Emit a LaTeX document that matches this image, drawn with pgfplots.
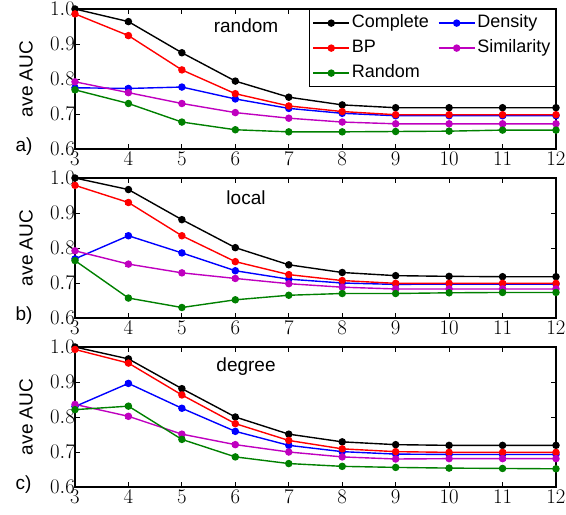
\documentclass[border=0pt]{standalone}
\usepackage{fontspec}
\setmainfont{Liberation Sans}
\usepackage{pgfplots}
\pgfplotsset{compat=1.18}
\definecolor{mpgreen}{rgb}{0,0.5,0}
\definecolor{mpmag}{rgb}{0.75,0,0.75}
\pgfplotsset{
  panel/.style={
    scale only axis, width=481pt, height=140pt,
    xmin=3, xmax=12, ymin=0.6, ymax=1.0,
    xtick={3,4,5,6,7,8,9,10,11,12},
    ytick={0.6,0.7,0.8,0.9,1.0},
    yticklabel style={/pgf/number format/fixed, /pgf/number format/fixed zerofill, /pgf/number format/precision=1},
    tick align=inside, xtick pos=both, ytick pos=both,
    xticklabel pos=bottom, yticklabel pos=left,
    major tick length=5pt,
    tick style={black, line width=0.9pt},
    axis line style={line width=1.2pt},
    ticklabel style={font=\fontsize{20}{22}\selectfont},
    every y tick label/.append style={xshift=3.3pt},
    clip=false,
    every axis plot/.append style={line width=1.4pt, mark=*, mark size=3pt,
      error bars/y dir=both, error bars/y explicit,
      error bars/error bar style={line width=1pt},
      error bars/error mark options={rotate=90, mark size=3pt, line width=1pt}},
  },
  cB/.style={black, mark options={fill=black}},
  cR/.style={red, mark options={fill=red}},
  cD/.style={blue, mark options={fill=blue}},
  cS/.style={mpmag, mark options={fill=mpmag}},
  cG/.style={mpgreen, mark options={fill=mpgreen}},
}
\newcommand{\lbl}[1]{\node[rotate=90, font=\fontsize{19}{22}\selectfont] at ([xshift=-49pt]rel axis cs:0,0.5) {ave AUC};
  \node[anchor=base west, font=\fontsize{19}{22}\selectfont] at ([xshift=-63pt,yshift=-2pt]rel axis cs:0,0) {#1};}
\begin{document}
\begin{tikzpicture}
\useasboundingbox (0,0) rectangle (566pt,-515pt);
% ---------------- panel a
\begin{axis}[panel, at={(75pt,-9pt)}, anchor=north west,
  legend columns=2,
  legend style={at={(rel axis cs:1,1)}, anchor=north east, draw=black, line width=1.2pt,
    font=\fontsize{18}{20}\selectfont, inner sep=3pt, row sep=4pt,
    nodes={inner sep=2pt, text height=13pt, text depth=4pt},
    /tikz/every even column/.append style={column sep=7pt}},
  legend cell align=left,
  legend image code/.code={\draw[mark repeat=2, mark phase=2] plot coordinates {(0pt,0pt) (18pt,0pt) (36pt,0pt)};},
]
\addplot[cB] coordinates {(3,1.0)+-(0,0.003) (4,0.964)+-(0,0.004) (5,0.875)+-(0,0.004) (6,0.794)+-(0,0.004) (7,0.748)+-(0,0.003) (8,0.726)+-(0,0.003) (9,0.718)+-(0,0.003) (10,0.718)+-(0,0.003) (11,0.718)+-(0,0.003) (12,0.718)+-(0,0.003)};
\addlegendentry{Complete}
\addplot[cD] coordinates {(3,0.775)+-(0,0.004) (4,0.773)+-(0,0.005) (5,0.777)+-(0,0.005) (6,0.743)+-(0,0.005) (7,0.716)+-(0,0.004) (8,0.702)+-(0,0.004) (9,0.695)+-(0,0.004) (10,0.695)+-(0,0.004) (11,0.695)+-(0,0.004) (12,0.695)+-(0,0.004)};
\addlegendentry{Density}
\addplot[cR] coordinates {(3,0.986)+-(0,0.004) (4,0.924)+-(0,0.005) (5,0.826)+-(0,0.005) (6,0.758)+-(0,0.004) (7,0.723)+-(0,0.004) (8,0.707)+-(0,0.004) (9,0.698)+-(0,0.004) (10,0.698)+-(0,0.004) (11,0.698)+-(0,0.004) (12,0.698)+-(0,0.004)};
\addlegendentry{BP}
\addplot[cS] coordinates {(3,0.792)+-(0,0.005) (4,0.761)+-(0,0.006) (5,0.730)+-(0,0.005) (6,0.704)+-(0,0.004) (7,0.688)+-(0,0.004) (8,0.677)+-(0,0.004) (9,0.672)+-(0,0.004) (10,0.672)+-(0,0.004) (11,0.672)+-(0,0.004) (12,0.672)+-(0,0.004)};
\addlegendentry{Similarity}
\addplot[cG] coordinates {(3,0.769)+-(0,0.004) (4,0.730)+-(0,0.004) (5,0.677)+-(0,0.004) (6,0.655)+-(0,0.003) (7,0.649)+-(0,0.003) (8,0.649)+-(0,0.003) (9,0.650)+-(0,0.003) (10,0.651)+-(0,0.003) (11,0.654)+-(0,0.003) (12,0.654)+-(0,0.003)};
\addlegendentry{Random}
\node[font=\fontsize{19}{22}\selectfont] at (axis cs:6.2,0.951) {random};
\lbl{a)}
\end{axis}
% ---------------- panel b
\begin{axis}[panel, at={(75pt,-178pt)}, anchor=north west]
\addplot[cB] coordinates {(3,1.0)+-(0,0.003) (4,0.967)+-(0,0.004) (5,0.881)+-(0,0.004) (6,0.801)+-(0,0.004) (7,0.752)+-(0,0.003) (8,0.730)+-(0,0.003) (9,0.721)+-(0,0.003) (10,0.719)+-(0,0.003) (11,0.718)+-(0,0.003) (12,0.718)+-(0,0.003)};
\addplot[cD] coordinates {(3,0.769)+-(0,0.004) (4,0.835)+-(0,0.006) (5,0.786)+-(0,0.005) (6,0.735)+-(0,0.005) (7,0.711)+-(0,0.004) (8,0.700)+-(0,0.004) (9,0.696)+-(0,0.004) (10,0.697)+-(0,0.004) (11,0.697)+-(0,0.004) (12,0.697)+-(0,0.004)};
\addplot[cR] coordinates {(3,0.979)+-(0,0.004) (4,0.930)+-(0,0.005) (5,0.835)+-(0,0.005) (6,0.761)+-(0,0.004) (7,0.724)+-(0,0.004) (8,0.707)+-(0,0.004) (9,0.699)+-(0,0.004) (10,0.699)+-(0,0.004) (11,0.699)+-(0,0.004) (12,0.699)+-(0,0.004)};
\addplot[cS] coordinates {(3,0.792)+-(0,0.005) (4,0.754)+-(0,0.006) (5,0.729)+-(0,0.005) (6,0.713)+-(0,0.005) (7,0.698)+-(0,0.004) (8,0.688)+-(0,0.004) (9,0.683)+-(0,0.004) (10,0.683)+-(0,0.004) (11,0.683)+-(0,0.004) (12,0.683)+-(0,0.004)};
\addplot[cG] coordinates {(3,0.764)+-(0,0.004) (4,0.657)+-(0,0.005) (5,0.630)+-(0,0.004) (6,0.652)+-(0,0.004) (7,0.665)+-(0,0.003) (8,0.670)+-(0,0.003) (9,0.670)+-(0,0.003) (10,0.672)+-(0,0.003) (11,0.673)+-(0,0.003) (12,0.673)+-(0,0.003)};
\node[font=\fontsize{19}{22}\selectfont] at (axis cs:6.2,0.944) {local};
\lbl{b)}
\end{axis}
% ---------------- panel c
\begin{axis}[panel, at={(75pt,-347pt)}, anchor=north west]
\addplot[cB] coordinates {(3,1.0)+-(0,0.003) (4,0.966)+-(0,0.004) (5,0.881)+-(0,0.004) (6,0.800)+-(0,0.004) (7,0.751)+-(0,0.003) (8,0.729)+-(0,0.003) (9,0.721)+-(0,0.003) (10,0.719)+-(0,0.003) (11,0.719)+-(0,0.003) (12,0.719)+-(0,0.003)};
\addplot[cD] coordinates {(3,0.830)+-(0,0.004) (4,0.896)+-(0,0.005) (5,0.825)+-(0,0.005) (6,0.759)+-(0,0.005) (7,0.719)+-(0,0.004) (8,0.701)+-(0,0.004) (9,0.694)+-(0,0.004) (10,0.693)+-(0,0.004) (11,0.693)+-(0,0.004) (12,0.693)+-(0,0.004)};
\addplot[cR] coordinates {(3,0.993)+-(0,0.004) (4,0.954)+-(0,0.005) (5,0.863)+-(0,0.005) (6,0.781)+-(0,0.004) (7,0.733)+-(0,0.004) (8,0.709)+-(0,0.004) (9,0.701)+-(0,0.004) (10,0.699)+-(0,0.004) (11,0.699)+-(0,0.004) (12,0.699)+-(0,0.004)};
\addplot[cS] coordinates {(3,0.836)+-(0,0.006) (4,0.802)+-(0,0.006) (5,0.751)+-(0,0.005) (6,0.721)+-(0,0.005) (7,0.700)+-(0,0.004) (8,0.686)+-(0,0.004) (9,0.680)+-(0,0.004) (10,0.681)+-(0,0.004) (11,0.681)+-(0,0.004) (12,0.681)+-(0,0.004)};
\addplot[cG] coordinates {(3,0.821)+-(0,0.004) (4,0.831)+-(0,0.004) (5,0.736)+-(0,0.004) (6,0.686)+-(0,0.004) (7,0.667)+-(0,0.003) (8,0.659)+-(0,0.003) (9,0.656)+-(0,0.003) (10,0.654)+-(0,0.003) (11,0.653)+-(0,0.003) (12,0.652)+-(0,0.003)};
\node[font=\fontsize{19}{22}\selectfont] at (axis cs:6.2,0.945) {degree};
\lbl{c)}
\end{axis}
\end{tikzpicture}
\end{document}
